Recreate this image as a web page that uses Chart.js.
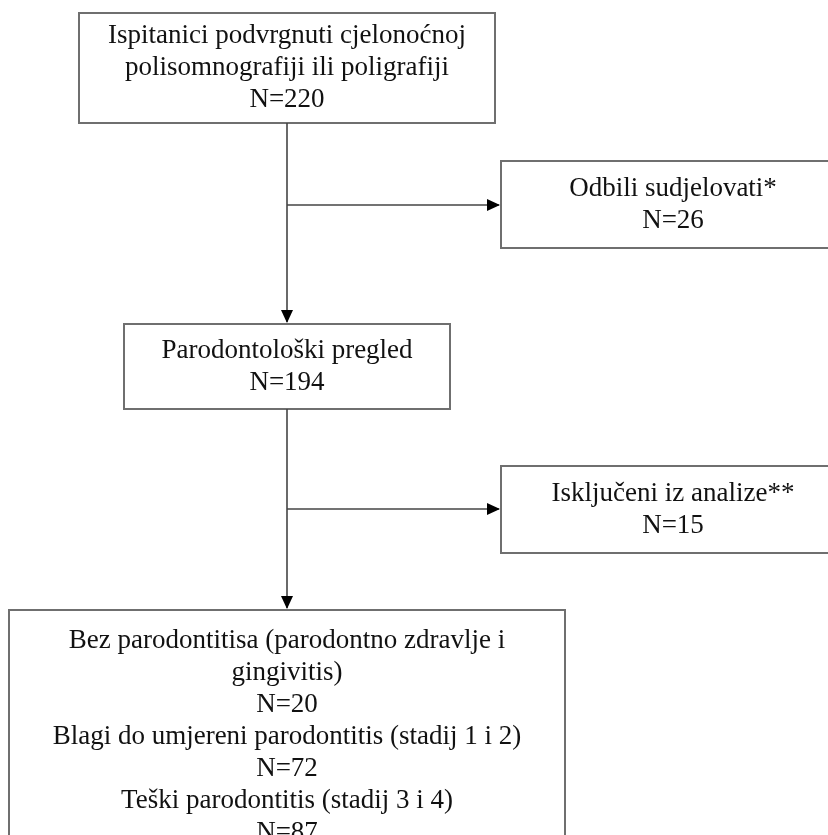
<!DOCTYPE html>
<html>
<head>
<meta charset="utf-8">
<script src="https://cdn.jsdelivr.net/npm/chart.js@4/dist/chart.umd.min.js"></script>
<style>
  html, body { margin: 0; padding: 0; background: #ffffff; }
  #wrap { width: 828px; height: 835px; }
</style>
</head>
<body>
<div id="wrap"><canvas id="c" width="828" height="835"></canvas></div>
<script>
// ---- data ----
const stageTitles = [
  ["Ispitanici podvrgnuti cjelonoćnoj", "polisomnografiji ili poligrafiji"],
  ["Odbili sudjelovati*"],
  ["Parodontološki pregled"],
  ["Isključeni iz analize**"]
];
const stageCounts = [220, 26, 194, 15];
const outcomeTitles = [
  ["Bez parodontitisa (parodontno zdravlje i", "gingivitis)"],
  ["Blagi do umjereni parodontitis (stadij 1 i 2)"],
  ["Teški parodontitis (stadij 3 i 4)"]
];
const outcomeCounts = [20, 72, 87];

// ---- layout (data units of hidden linear scales) ----
const boxGeom = [
  { x0: 79,  x1: 495, y0: 13,  y1: 123 },
  { x0: 501, x1: 845, y0: 161, y1: 248 },
  { x0: 124, x1: 450, y0: 324, y1: 409 },
  { x0: 501, x1: 845, y0: 466, y1: 553 },
  { x0: 9,   x1: 565, y0: 610, y1: 900 }
];
const mainX = 287;
const branchY = [205, 509];
const lineStep = 32;
const fontSize = 27;

function linesFor(i) {
  if (i < 4) return stageTitles[i].concat(["N=" + stageCounts[i]]);
  let out = [];
  outcomeTitles.forEach((t, k) => { out = out.concat(t, ["N=" + outcomeCounts[k]]); });
  return out;
}

const centers = boxGeom.map(b => ({ x: (b.x0 + b.x1) / 2, y: (b.y0 + b.y1) / 2 }));

const flowPlugin = {
  id: 'flow',
  afterDatasetsDraw(chart) {
    const ctx = chart.ctx;
    const xs = chart.scales.x, ys = chart.scales.y;
    const px = v => xs.getPixelForValue(v);
    const py = v => ys.getPixelForValue(v);
    ctx.save();
    // boxes
    ctx.strokeStyle = '#6f6f6f';
    ctx.lineWidth = 2;
    boxGeom.forEach(b => {
      ctx.strokeRect(px(b.x0), py(b.y0), px(b.x1) - px(b.x0), py(b.y1) - py(b.y0));
    });
    // connectors
    ctx.strokeStyle = '#444';
    ctx.lineWidth = 1.6;
    const seg = (x0, y0, x1, y1) => {
      ctx.beginPath(); ctx.moveTo(px(x0), py(y0)); ctx.lineTo(px(x1), py(y1)); ctx.stroke();
    };
    const arrowDown = (x, y) => {
      ctx.beginPath();
      ctx.moveTo(px(x), py(y));
      ctx.lineTo(px(x) - 6, py(y) - 13);
      ctx.lineTo(px(x) + 6, py(y) - 13);
      ctx.closePath(); ctx.fillStyle = '#000'; ctx.fill();
    };
    const arrowRight = (x, y) => {
      ctx.beginPath();
      ctx.moveTo(px(x), py(y));
      ctx.lineTo(px(x) - 13, py(y) - 6);
      ctx.lineTo(px(x) - 13, py(y) + 6);
      ctx.closePath(); ctx.fillStyle = '#000'; ctx.fill();
    };
    seg(mainX, boxGeom[0].y1, mainX, boxGeom[2].y0 - 2);
    arrowDown(mainX, boxGeom[2].y0 - 1);
    seg(mainX, branchY[0], boxGeom[1].x0 - 2, branchY[0]);
    arrowRight(boxGeom[1].x0 - 1, branchY[0]);
    seg(mainX, boxGeom[2].y1, mainX, boxGeom[4].y0 - 2);
    arrowDown(mainX, boxGeom[4].y0 - 1);
    seg(mainX, branchY[1], boxGeom[3].x0 - 2, branchY[1]);
    arrowRight(boxGeom[3].x0 - 1, branchY[1]);
    // texts
    ctx.fillStyle = '#111';
    ctx.font = fontSize + 'px "Liberation Serif", "Times New Roman", serif';
    ctx.textAlign = 'center';
    ctx.textBaseline = 'middle';
    boxGeom.forEach((b, i) => {
      const lines = linesFor(i);
      let startY;
      if (i < 4) startY = (b.y0 + b.y1) / 2 - (lines.length - 1) * lineStep / 2;
      else startY = b.y0 + 31;
      lines.forEach((t, k) => {
        ctx.fillText(t, px(centers[i].x), py(startY + k * lineStep));
      });
    });
    ctx.restore();
  }
};

new Chart(document.getElementById('c'), {
  type: 'scatter',
  data: {
    datasets: [{
      data: centers,
      pointRadius: 0,
      pointHoverRadius: 0,
      showLine: false
    }]
  },
  options: {
    responsive: false,
    animation: false,
    devicePixelRatio: 1,
    layout: { padding: 0 },
    plugins: { legend: { display: false }, tooltip: { enabled: false } },
    scales: {
      x: { type: 'linear', min: 0, max: 828, display: false },
      y: { type: 'linear', min: 0, max: 835, reverse: true, display: false }
    }
  },
  plugins: [flowPlugin]
});
</script>
</body>
</html>
